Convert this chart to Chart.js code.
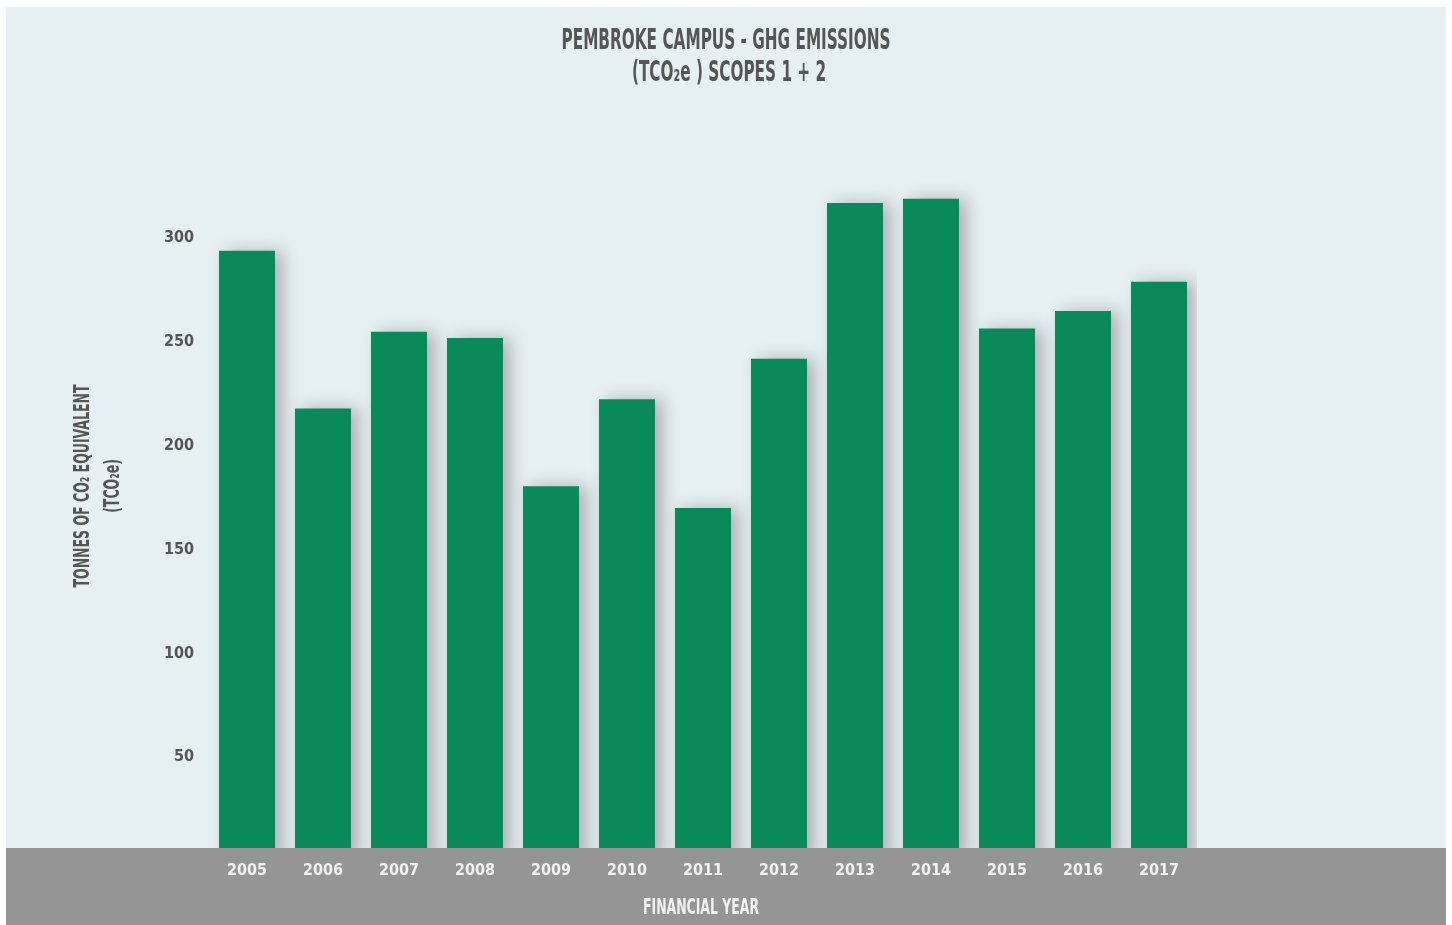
<!DOCTYPE html>
<html>
<head>
<meta charset="utf-8">
<title>Pembroke Campus - GHG Emissions</title>
<script src="https://cdn.jsdelivr.net/npm/chart.js@4.4.1/dist/chart.umd.min.js"></script>
<style>
html, body { margin: 0; padding: 0; background: #fff; }
#wrap { width: 1452px; height: 925px; }
</style>
</head>
<body>
<div id="wrap"><canvas id="ghg" width="1452" height="925"></canvas></div>
<script>
// financial years and scope 1 + 2 emissions (tCO2e)
var years = ['2005', '2006', '2007', '2008', '2009', '2010', '2011', '2012', '2013', '2014', '2015', '2016', '2017'];
var emissions = [294, 218, 255, 252, 180.5, 222.5, 170, 242, 317, 319, 256.5, 265, 279];
var yTicks = [50, 100, 150, 200, 250, 300];

var titleLines = ['PEMBROKE CAMPUS - GHG EMISSIONS', '(TCO\u2082e ) SCOPES 1 + 2'];
var yTitleLines = ['TONNES OF CO\u2082 EQUIVALENT', '(TCO\u2082e)'];
var xTitle = 'FINANCIAL YEAR';

var FONT = '"DejaVu Sans Condensed", "DejaVu Sans", sans-serif';
var PANEL = '#e6eff2';
var BAND = '#959595';
var GREEN = '#0a8a5a';

// squeezed text, the labels are set in a narrow face
function narrowText(ctx, text, x, y, sx) {
    ctx.save();
    ctx.translate(x, y);
    ctx.scale(sx, 1);
    ctx.fillText(text, 0, 0);
    ctx.restore();
}

// background panel, gray footer band, bar shadows and the titles
var decor = {
    id: 'decor',
    beforeDraw: function(chart) {
        var ctx = chart.ctx;
        ctx.save();
        ctx.fillStyle = '#fff';
        ctx.fillRect(0, 0, chart.width, chart.height);
        ctx.fillStyle = PANEL;
        ctx.fillRect(6, 7, 1440, chart.height - 7);
        ctx.restore();
    },
    beforeDatasetsDraw: function(chart) {
        var ctx = chart.ctx;
        ctx.save();
        ctx.shadowColor = 'rgba(0,0,0,0.25)';
        ctx.shadowBlur = 16;
        ctx.shadowOffsetX = 8;
        ctx.shadowOffsetY = 0;
    },
    afterDatasetsDraw: function(chart) {
        var ctx = chart.ctx;
        ctx.restore();
        // footer band sits over the bar bases, x labels go on top of it
        ctx.save();
        ctx.fillStyle = BAND;
        ctx.fillRect(6, 848, 1440, chart.height - 848);
        ctx.restore();
    },
    afterDraw: function(chart) {
        var ctx = chart.ctx;
        ctx.save();
        ctx.textAlign = 'center';
        ctx.textBaseline = 'middle';

        ctx.fillStyle = '#555';
        ctx.font = 'bold 29px ' + FONT;
        var sx = 329 / ctx.measureText(titleLines[0]).width;
        narrowText(ctx, titleLines[0], 726, 41, sx);
        narrowText(ctx, titleLines[1], 729, 73, sx);

        ctx.fillStyle = '#f2f2f2';
        ctx.font = 'bold 22px ' + FONT;
        narrowText(ctx, xTitle, 701, 908, 116 / ctx.measureText(xTitle).width);

        ctx.fillStyle = '#555';
        ctx.font = 'bold 22px ' + FONT;
        var sy = 203 / ctx.measureText(yTitleLines[0]).width;
        ctx.translate(83, 486);
        ctx.rotate(-Math.PI / 2);
        narrowText(ctx, yTitleLines[0], 0, 0, sy);
        narrowText(ctx, yTitleLines[1], 0, 30, sy);
        ctx.restore();
    }
};

var ctx = document.getElementById('ghg').getContext('2d');
var chart = new Chart(ctx, {
    type: 'bar',
    data: {
        labels: years,
        datasets: [{
            label: 'tCO2e',
            data: emissions,
            backgroundColor: GREEN,
            borderWidth: 0,
            categoryPercentage: 1,
            barPercentage: 0.737
        }]
    },
    options: {
        responsive: false,
        animation: false,
        devicePixelRatio: 1,
        layout: { padding: { top: 176, right: 255, bottom: 0, left: 0 } },
        plugins: {
            legend: { display: false },
            title: { display: false },
            tooltip: { enabled: false }
        },
        scales: {
            x: {
                grid: { display: false, drawTicks: false },
                border: { display: false },
                ticks: {
                    z: 1,
                    color: '#f2f2f2',
                    padding: 0,
                    font: { family: FONT, size: 16, weight: 'bold' }
                },
                afterFit: function(scale) { scale.height = 64; }
            },
            y: {
                min: 0,
                max: 330,
                grid: { display: false, drawTicks: false },
                border: { display: false },
                ticks: {
                    stepSize: 50,
                    color: '#555',
                    padding: 15,
                    font: { family: FONT, size: 16, weight: 'bold' },
                    callback: function(v) { return yTicks.indexOf(v) >= 0 ? v : ''; }
                },
                afterFit: function(scale) { scale.width = 209; }
            }
        }
    },
    plugins: [decor]
});
</script>
</body>
</html>
